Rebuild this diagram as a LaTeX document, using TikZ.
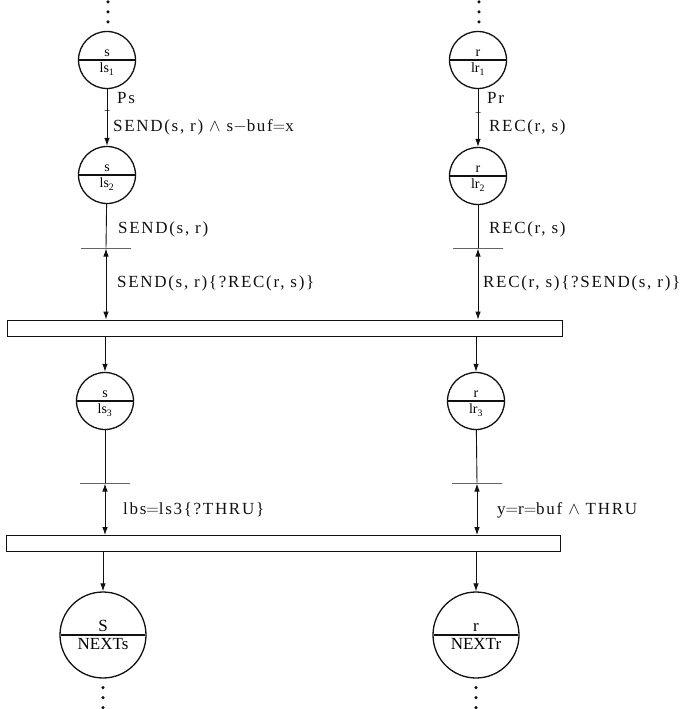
\documentclass[tikz,border=0pt]{standalone}
\usepackage{fontspec}
\setmainfont{Liberation Serif}
\newfontfamily\lblfont[LetterSpace=10]{Liberation Serif}
\usetikzlibrary{arrows.meta, positioning, shapes.multipart}
\definecolor{cInk}{HTML}{111111}

\begin{document}
\begin{tikzpicture}[x=1pt, y=-1pt,
      state/.style = {circle split, draw=cInk, line width=1.3pt, minimum size=57pt, inner sep=2.5pt, font=\fontsize{14}{15}\selectfont},
      big/.style   = {state, minimum size=86pt, inner sep=3pt, font=\fontsize{17}{18}\selectfont},
      bar/.style   = {draw=cInk, line width=0.8pt, minimum height=16pt, inner sep=0pt},
      tbar/.style  = {draw=cInk, line width=1pt, minimum width=50pt, minimum height=0pt, inner sep=0pt},
      mbar/.style  = {draw=cInk, line width=0.8pt, minimum width=5pt, minimum height=0pt, inner sep=0pt},
      lbl/.style   = {anchor=west, inner sep=0pt, text=cInk, font=\lblfont\fontsize{17}{18}\selectfont},
      ln/.style    = {draw=cInk, line width=0.9pt},
      ar/.style    = {-{Latex[length=8pt, width=5.5pt]}, draw=cInk, line width=0.9pt},
      dar/.style   = {{Latex[length=8pt, width=5.5pt]}-{Latex[length=8pt, width=5.5pt]}, draw=cInk, line width=0.9pt} ]
    \useasboundingbox (0,0) rectangle (696,709);

    % sender side
    \node[state] (s1) at (107,60)  {s \nodepart{lower} ls\textsubscript{1}};
    \node[state] (s2) at (107,175) {s \nodepart{lower} ls\textsubscript{2}};
    \node[state] (s3) at (105,401) {s \nodepart{lower} ls\textsubscript{3}};
    \node[big]   (s4) at (103,635) {S \nodepart{lower} NEXTs};
    % receiver side
    \node[state] (r1) at (478,60)  {r \nodepart{lower} lr\textsubscript{1}};
    \node[state] (r2) at (478,176) {r \nodepart{lower} lr\textsubscript{2}};
    \node[state] (r3) at (476,401) {r \nodepart{lower} lr\textsubscript{3}};
    \node[big]   (r4) at (476,635) {r \nodepart{lower} NEXTr};

    % synchronisation bars
    \node[bar, minimum width=555pt] (b1) at (284.5,328) {};
    \node[bar, minimum width=554pt] (b2) at (283,543.5) {};
    \node[tbar] (ts1) at (106,248) {};
    \node[tbar] (tr1) at (478,248) {};
    \node[tbar] (ts2) at (105,483) {};
    \node[tbar] (tr2) at (477,483) {};
    \node[mbar] (ms) at (107,110) {};
    \node[mbar] (mr) at (478,112) {};

    \draw[ar]  (s1) -- (s2);  \draw[ar]  (r1) -- (r2);
    \draw[ln]  (s2) -- (ts1); \draw[ln]  (r2) -- (tr1);
    \draw[dar] (ts1) -- (ts1 |- b1.north); \draw[dar] (tr1) -- (tr1 |- b1.north);
    \draw[ar]  (s3 |- b1.south) -- (s3);   \draw[ar]  (r3 |- b1.south) -- (r3);
    \draw[ln]  (s3) -- (ts2); \draw[ln]  (r3) -- (tr2);
    \draw[dar] (ts2) -- (ts2 |- b2.north); \draw[dar] (tr2) -- (tr2 |- b2.north);
    \draw[ar]  (s4 |- b2.south) -- (s4);   \draw[ar]  (r4 |- b2.south) -- (r4);

    % labels
    \node[lbl] (ps)  at (117,98)  {Ps};
    \node[lbl] (es1) at (113,127) {SEND(s, r) $\wedge$ s$-$buf$=$x};
    \node[lbl] (es2) at (118,229) {SEND(s, r)};
    \node[lbl] (es3) at (117,283) {SEND(s, r)\{?REC(r, s)\}};
    \node[lbl] (es4) at (123,510) {lbs$=$ls3\{?THRU\}};
    \node[lbl] (pr)  at (487,98)  {Pr};
    \node[lbl] (er1) at (489,127) {REC(r, s)};
    \node[lbl] (er2) at (489,229) {REC(r, s)};
    \node[lbl] (er3) at (483,283) {REC(r, s)\{?SEND(s, r)\}};
    \node[lbl] (er4) at (497,510) {y$=$r$=$buf $\wedge$ THRU};

    % continuation dots
    \foreach \k in {9,19,29} {
      \fill[cInk] (s1.north) ++(1,-\k) circle (1.7pt);
      \fill[cInk] (r1.north) ++(1,-\k) circle (1.7pt);
      \fill[cInk] (s4.south) ++(0,\k) circle (1.7pt);
      \fill[cInk] (r4.south) ++(0,\k) circle (1.7pt);
    }
  \end{tikzpicture}
\end{document}
